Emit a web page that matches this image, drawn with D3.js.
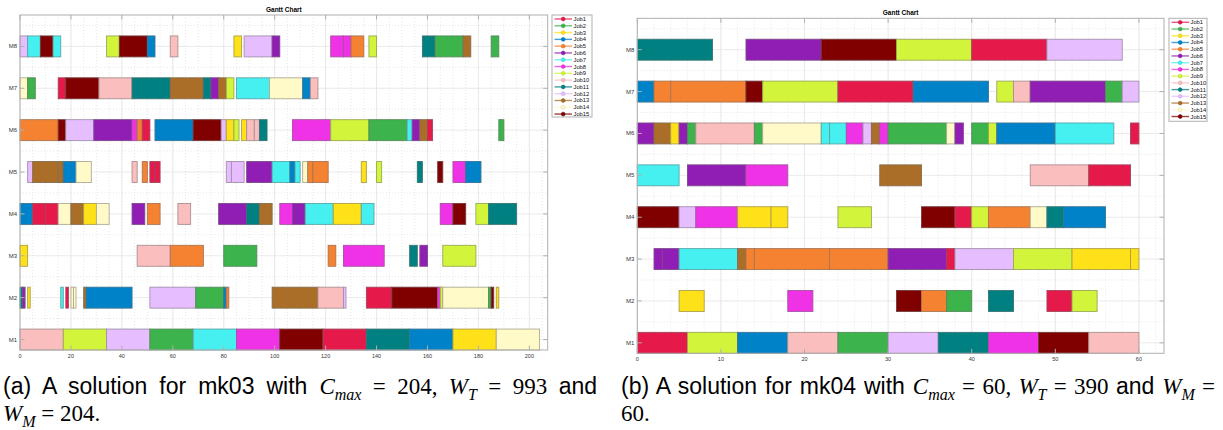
<!DOCTYPE html>
<html>
<head>
<meta charset="utf-8">
<script src="https://cdn.jsdelivr.net/npm/d3@7"></script>
<style>
  body { margin: 0; background: #fff; }
  svg { display: block; }
</style>
</head>
<body>
<svg id="fig" width="1223" height="430"></svg>
<script>
// Machines on the y axis (bottom to top) and jobs in the legend
const machines = ["M1", "M2", "M3", "M4", "M5", "M6", "M7", "M8"]
const jobs = ["Job1", "Job2", "Job3", "Job4", "Job5", "Job6", "Job7", "Job8",
  "Job9", "Job10", "Job11", "Job12", "Job13", "Job14", "Job15"]
const jobColors = ["#e6194b", "#3cb44b", "#ffe119", "#0082c8", "#f58231", "#911eb4",
  "#46f0f0", "#f032e6", "#d2f53c", "#fabebe", "#008080", "#e6beff", "#aa6e28",
  "#fffac8", "#800000"]

// operations: [machine, job, start, end]
const mk03Ops = [
  [1,10,0,17],[1,9,17,34],[1,12,34,51],[1,2,51,68],[1,7,68,85],[1,8,85,102],[1,15,102,119],
  [1,1,119,136],[1,11,136,153],[1,4,153,170],[1,3,170,187],[1,14,187,204],
  [2,11,0,1],[2,6,1,2],[2,3,3,4],[2,7,16,17],[2,1,18,19],[2,14,20,21],[2,14,21,22],
  [2,13,25,26],[2,4,26,44],[2,12,51,69],[2,2,69,80],[2,4,80,81],[2,5,81,82],[2,13,99,117],
  [2,10,117,127],[2,12,127,128],[2,1,136,146],[2,15,146,164],[2,8,164,165],[2,9,165,166],
  [2,14,166,184],[2,2,184,185],[2,15,185,186],[2,3,187,188],
  [3,3,0,3],[3,10,46,59],[3,5,59,72],[3,2,80,93],[3,5,121,124],[3,8,127,143],[3,11,153,156],
  [3,6,157,160],[3,9,166,179],
  [4,4,0,5],[4,1,5,10],[4,1,10,15],[4,14,15,20],[4,13,20,25],[4,3,25,30],[4,14,30,35],
  [4,6,44,49],[4,5,50,55],[4,10,62,67],[4,6,78,89],[4,11,89,94],[4,13,94,99],[4,8,102,107],
  [4,6,107,112],[4,7,112,123],[4,3,123,134],[4,7,134,139],[4,8,165,170],[4,15,170,175],
  [4,9,179,184],[4,11,184,195],
  [5,12,3,5],[5,13,5,15],[5,13,15,17],[5,4,17,22],[5,14,22,28],[5,10,44,46],[5,5,48,50],
  [5,1,51,53],[5,1,53,55],[5,12,81,83],[5,12,83,88],[5,6,89,99],[5,7,99,106],[5,4,106,108],
  [5,7,108,110],[5,14,111,113],[5,5,113,115],[5,5,115,121],[5,3,134,136],[5,9,140,142],
  [5,11,156,158],[5,15,164,166],[5,8,170,175],[5,4,175,181],
  [6,5,0,15],[6,15,15,18],[6,12,18,29],[6,6,29,44],[6,8,44,46],[6,5,46,48],[6,1,48,51],
  [6,4,53,68],[6,15,68,79],[6,12,79,81],[6,3,81,84],[6,9,84,86],[6,3,87,89],[6,10,89,92],
  [6,10,92,94],[6,11,94,97],[6,8,107,122],[6,9,122,137],[6,2,137,152],[6,7,152,154],
  [6,6,154,157],[6,13,157,160],[6,1,160,162],[6,2,188,190],
  [7,14,0,3],[7,2,3,6],[7,1,15,18],[7,15,18,31],[7,10,31,44],[7,11,44,59],[7,13,59,72],
  [7,11,72,75],[7,6,75,78],[7,13,78,81],[7,9,81,84],[7,7,85,98],[7,14,98,111],[7,4,111,114],
  [7,10,114,117],
  [8,12,0,3],[8,7,3,8],[8,15,8,13],[8,7,13,16],[8,9,34,39],[8,15,39,50],[8,4,50,53],
  [8,10,59,62],[8,3,84,87],[8,12,88,99],[8,6,99,102],[8,8,122,127],[8,8,127,130],
  [8,5,130,135],[8,9,137,140],[8,11,158,163],[8,2,163,174],[8,13,174,177],[8,2,185,188]
]

const mk04Ops = [
  [1,1,0,6],[1,9,6,12],[1,4,12,18],[1,10,18,24],[1,2,24,30],[1,12,30,36],[1,11,36,42],
  [1,8,42,48],[1,15,48,54],[1,10,54,60],
  [2,3,5,8],[2,8,18,21],[2,15,31,34],[2,5,34,37],[2,2,37,40],[2,11,42,45],[2,1,49,52],[2,9,52,55],
  [3,6,2,3],[3,6,3,5],[3,7,5,12],[3,13,12,13],[3,5,13,14],[3,5,14,23],[3,5,23,30],[3,6,30,37],
  [3,1,37,38],[3,12,38,45],[3,9,45,52],[3,3,52,59],[3,3,59,60],
  [4,15,0,5],[4,12,5,7],[4,8,7,12],[4,3,12,16],[4,3,16,18],[4,9,24,28],[4,15,34,38],
  [4,1,38,40],[4,9,40,42],[4,5,42,47],[4,14,47,49],[4,11,49,51],[4,4,51,56],
  [5,7,0,5],[5,6,6,13],[5,8,13,18],[5,13,29,34],[5,10,47,54],[5,1,54,59],
  [6,6,0,2],[6,13,2,4],[6,3,4,5],[6,6,5,6],[6,2,6,7],[6,10,7,14],[6,2,14,15],[6,14,15,22],
  [6,7,22,23],[6,7,23,25],[6,8,25,27],[6,12,27,28],[6,13,28,29],[6,8,29,30],[6,2,30,37],
  [6,14,37,38],[6,6,38,39],[6,2,40,42],[6,9,42,43],[6,4,43,50],[6,7,50,57],[6,1,59,60],
  [7,4,0,2],[7,5,2,4],[7,5,4,13],[7,15,13,15],[7,9,15,24],[7,1,24,33],[7,4,33,42],
  [7,9,43,45],[7,10,45,47],[7,6,47,56],[7,2,56,58],[7,12,58,60],
  [8,11,0,9],[8,6,13,22],[8,15,22,31],[8,9,31,40],[8,1,40,49],[8,12,49,58]
]

const mk03Ticks = [0, 20, 40, 60, 80, 100, 120, 140, 160, 180, 200]
const mk04Ticks = [0, 10, 20, 30, 40, 50, 60]

const sansFont = "'Liberation Sans', Arial, Helvetica, sans-serif"
const serifFont = "'Liberation Serif', 'DejaVu Serif', serif"

const svg = d3.select("#fig")

function drawGantt(cfg) {
  const g = svg.append("g")
  const x = d3.scaleLinear().domain([0, cfg.xMax]).range([cfg.left, cfg.right])
  const y = d3.scaleLinear().domain([0.75, 8.75]).range([cfg.bottom, cfg.top])
  const band = y(1) - y(1.5)

  // minor grid (dotted)
  const minorX = d3.range(cfg.minorStep, cfg.xMax, cfg.minorStep)
  g.selectAll(".minor-x").data(minorX).join("line")
      .attr("x1", d => x(d)).attr("x2", d => x(d))
      .attr("y1", cfg.top).attr("y2", cfg.bottom)
      .attr("stroke", "#dcdcdc").attr("stroke-width", 0.7)
      .attr("stroke-dasharray", "1,2")
  g.selectAll(".minor-y").data(d3.range(1.5, 8.75, 1)).join("line")
      .attr("x1", cfg.left).attr("x2", cfg.right)
      .attr("y1", d => y(d)).attr("y2", d => y(d))
      .attr("stroke", "#dcdcdc").attr("stroke-width", 0.7)
      .attr("stroke-dasharray", "1,2")

  // major grid
  g.selectAll(".major-x").data(cfg.ticks).join("line")
      .attr("x1", d => x(d)).attr("x2", d => x(d))
      .attr("y1", cfg.top).attr("y2", cfg.bottom)
      .attr("stroke", "#e4e4e4").attr("stroke-width", 0.8)
  g.selectAll(".major-y").data(d3.range(1, 9)).join("line")
      .attr("x1", cfg.left).attr("x2", cfg.right)
      .attr("y1", d => y(d)).attr("y2", d => y(d))
      .attr("stroke", "#e4e4e4").attr("stroke-width", 0.8)

  // bars
  g.selectAll(".op").data(cfg.ops).join("rect")
      .attr("x", d => x(d[2]))
      .attr("y", d => y(d[0]) - band / 2)
      .attr("width", d => x(d[3]) - x(d[2]))
      .attr("height", band)
      .attr("fill", d => jobColors[d[1] - 1])
      .attr("stroke", d => d3.interpolateRgb(jobColors[d[1] - 1], "#6a6a6a")(0.55))
      .attr("stroke-width", 0.9)

  // axes box with inward ticks
  g.append("rect")
      .attr("x", cfg.left).attr("y", cfg.top)
      .attr("width", cfg.right - cfg.left).attr("height", cfg.bottom - cfg.top)
      .attr("fill", "none").attr("stroke", "#b0b0b0").attr("stroke-width", 1)
  const tl = 4.5
  cfg.ticks.forEach(t => {
    g.append("line").attr("x1", x(t)).attr("x2", x(t))
        .attr("y1", cfg.bottom).attr("y2", cfg.bottom - tl).attr("stroke", "#b0b0b0")
    g.append("line").attr("x1", x(t)).attr("x2", x(t))
        .attr("y1", cfg.top).attr("y2", cfg.top + tl).attr("stroke", "#b0b0b0")
  })
  machines.forEach((m, i) => {
    g.append("line").attr("x1", cfg.left).attr("x2", cfg.left + tl)
        .attr("y1", y(i + 1)).attr("y2", y(i + 1)).attr("stroke", "#b0b0b0")
    g.append("line").attr("x1", cfg.right).attr("x2", cfg.right - tl)
        .attr("y1", y(i + 1)).attr("y2", y(i + 1)).attr("stroke", "#b0b0b0")
  })

  // tick labels
  g.selectAll(".xl").data(cfg.ticks).join("text")
      .attr("x", d => x(d)).attr("y", cfg.bottom + 8)
      .attr("text-anchor", "middle")
      .attr("font-family", sansFont).attr("font-size", 5.5).attr("fill", "#333")
      .text(d => d)
  g.selectAll(".yl").data(machines).join("text")
      .attr("x", cfg.left - 3).attr("y", (d, i) => y(i + 1) + 2)
      .attr("text-anchor", "end")
      .attr("font-family", sansFont).attr("font-size", 6).attr("fill", "#333")
      .text(d => d)

  // title
  g.append("text")
      .attr("x", (cfg.left + cfg.right) / 2).attr("y", cfg.top - 3.5)
      .attr("text-anchor", "middle")
      .attr("font-family", sansFont).attr("font-size", 6.5).attr("font-weight", "bold")
      .text("Gantt Chart")

  // legend
  const lg = cfg.legend
  g.append("rect")
      .attr("x", lg.x).attr("y", lg.y).attr("width", lg.w).attr("height", lg.h)
      .attr("fill", "#fff").attr("stroke", "#b0b0b0").attr("stroke-width", 1)
  jobs.forEach((j, i) => {
    const ly = lg.y + 4 + i * lg.step
    const c = jobColors[i]
    g.append("line")
        .attr("x1", lg.x + 2.5).attr("x2", lg.x + 20)
        .attr("y1", ly).attr("y2", ly)
        .attr("stroke", c).attr("stroke-width", 1.4).attr("stroke-opacity", 0.75)
    g.append("circle")
        .attr("cx", lg.x + 11.2).attr("cy", ly).attr("r", 1.9)
        .attr("fill", c).attr("stroke", d3.color(c).darker(0.4)).attr("stroke-width", 0.6)
    g.append("text")
        .attr("x", lg.x + 21.5).attr("y", ly + 2)
        .attr("font-family", sansFont).attr("font-size", 5.8).attr("fill", "#111")
        .text(j)
  })
}

drawGantt({
  ops: mk03Ops, xMax: 207.2, ticks: mk03Ticks, minorStep: 5,
  left: 20, right: 547.7, top: 15, bottom: 350,
  legend: { x: 552, y: 15, w: 40, h: 102, step: 6.79 }
})
drawGantt({
  ops: mk04Ops, xMax: 63, ticks: mk04Ticks, minorStep: 2,
  left: 637.3, right: 1164, top: 18.3, bottom: 353.3,
  legend: { x: 1169, y: 18.3, w: 38, h: 103, step: 6.73 }
})

// captions: mixed sans text and LaTeX-style math, justified by word spacing
function caption(x, y, width, segs) {
  const t = svg.append("text")
      .attr("x", x).attr("y", y)
      .attr("font-size", 23)
      .style("white-space", "pre")
  let shifted = false
  segs.forEach(s => {
    const ts = t.append("tspan").text(s[0])
        .attr("font-family", s[1] === "sans" ? sansFont : serifFont)
        .attr("font-style", s[2] ? "italic" : "normal")
    if (s[3]) {
      ts.attr("font-size", 16).attr("dy", 5.5)
      shifted = true
    } else if (shifted) {
      ts.attr("dy", -5.5)
      shifted = false
    }
  })
  if (width) {
    const natural = t.node().getComputedTextLength()
    const spaces = segs.map(s => s[0]).join("").split(" ").length - 1
    t.style("word-spacing", ((width - natural) / spaces) + "px")
    const now = t.node().getComputedTextLength()
    if (Math.abs(now - width) > 2) {
      t.style("word-spacing", null)
          .attr("textLength", width).attr("lengthAdjust", "spacing")
    }
  }
}

caption(3, 394, 594, [
  ["(a) A solution for mk03 with ", "sans"], ["C", "serif", true], ["max", "serif", true, true],
  [" = 204, ", "serif"], ["W", "serif", true], ["T", "serif", true, true],
  [" = 993 ", "serif"], ["and", "sans"]
])
caption(3, 421, null, [
  ["W", "serif", true], ["M", "serif", true, true], [" = 204.", "serif"]
])
caption(621, 394, 594, [
  ["(b) A solution for mk04 with ", "sans"], ["C", "serif", true], ["max", "serif", true, true],
  [" = 60, ", "serif"], ["W", "serif", true], ["T", "serif", true, true],
  [" = 390 ", "serif"], ["and ", "sans"], ["W", "serif", true], ["M", "serif", true, true],
  [" =", "serif"]
])
caption(621, 421, null, [["60.", "serif"]])
</script>
</body>
</html>
